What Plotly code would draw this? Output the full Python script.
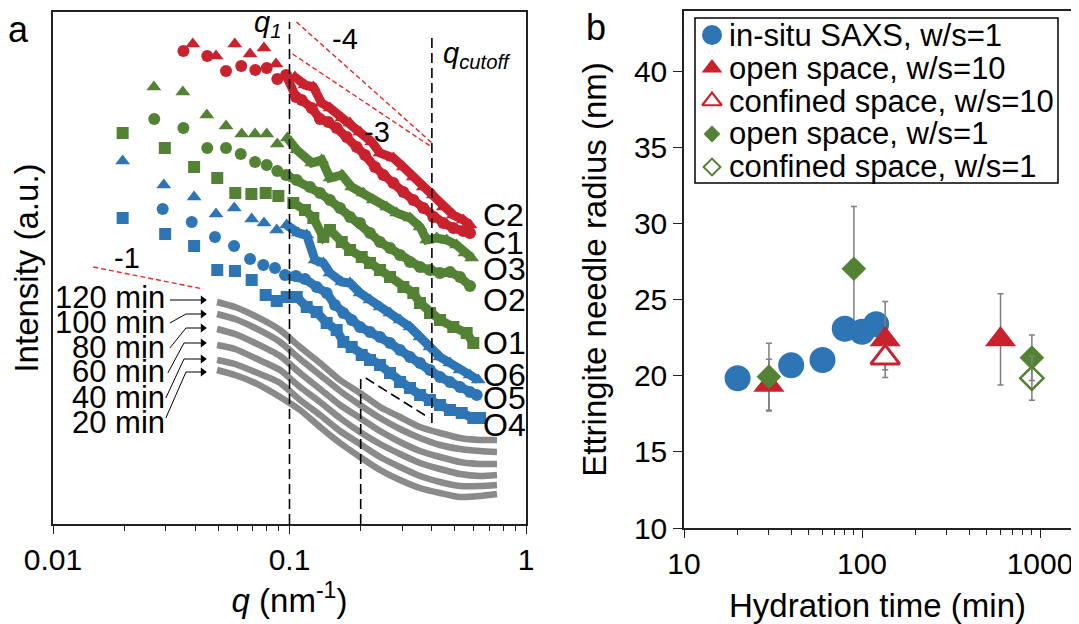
import plotly.graph_objects as go

W, H = 1079, 624
FONT = "Liberation Sans, Arial, sans-serif"
RED = "#C9212E"
GREEN = "#548235"
BLUE = "#2E75B6"
GRAY = "#8A8A8A"
ERR = "#7F7F7F"

# ---------------- Panel a: SAXS curves (q in nm^-1, intensity in a.u., stacked) ----------------
c2_q = [0.0390, 0.0489, 0.0587, 0.0681, 0.0780, 0.0877, 0.1055, 0.1163, 0.1261, 0.1368, 0.1483, 0.1663,
        0.1803, 0.1987, 0.2226, 0.2414, 0.2748, 0.3029, 0.3338, 0.3680, 0.4055, 0.4470, 0.4927, 0.5431, 0.5797]
c2_i = [480, 468, 480, 470, 476, 460, 447, 439, 437, 421, 416, 406,
        401, 392, 382, 371, 366, 357, 347, 337, 329, 317, 309, 304, 299]

c1_q = [0.0356, 0.0449, 0.0539, 0.0625, 0.0717, 0.0801, 0.0888, 0.0967, 0.1065, 0.1126, 0.1241, 0.1346,
        0.1459, 0.1583, 0.1746, 0.1923, 0.2085, 0.2299, 0.2493, 0.2748, 0.3029, 0.3338, 0.3680, 0.4055,
        0.4470, 0.4927, 0.5431, 0.5797]
c1_i = [473, 468, 453, 458, 454, 456, 445, 449, 427, 424, 416, 405,
        402, 396, 387, 377, 369, 357, 349, 341, 332, 324, 316, 307,
        301, 296, 293, 291]

o3_q = [0.0267, 0.0354, 0.0447, 0.0539, 0.0628, 0.0715, 0.0801, 0.0888, 0.0979, 0.1073, 0.1241, 0.1368,
        0.1483, 0.1663, 0.1832, 0.2051, 0.2261, 0.2576, 0.2841, 0.3232, 0.3563, 0.3803, 0.4192, 0.4620,
        0.5093, 0.5521, 0.5894]
o3_i = [437, 432, 409, 398, 390, 390, 390, 380, 386, 374, 361, 364,
        346, 349, 337, 331, 324, 317, 311, 306, 297, 284, 286, 284,
        279, 271, 266]

o2_q = [0.0268, 0.0356, 0.0449, 0.0539, 0.0622, 0.0715, 0.0801, 0.0888, 0.0967, 0.1073, 0.1221, 0.1346,
        0.1483, 0.1635, 0.1803, 0.1987, 0.2190, 0.2414, 0.2661, 0.2933, 0.3232, 0.3563, 0.3927, 0.4329,
        0.4771, 0.5259, 0.5797]
o2_i = [405, 396, 376, 376, 370, 362, 359, 353, 349, 344, 337, 331,
        324, 316, 307, 301, 291, 282, 276, 269, 262, 257, 254, 251,
        252, 247, 238]

o1_q = [0.0197, 0.0297, 0.0395, 0.0495, 0.0590, 0.0690, 0.0793, 0.0897, 0.1038, 0.1163, 0.1261, 0.1390,
        0.1483, 0.1663, 0.1803, 0.2020, 0.2190, 0.2414, 0.2661, 0.3029, 0.3338, 0.3563, 0.3927, 0.4329,
        0.4927, 0.5613, 0.5987]
o1_i = [391, 376, 357, 346, 331, 330, 331, 328, 321, 314, 306, 287,
        294, 282, 274, 267, 261, 254, 247, 237, 231, 221, 211, 204,
        197, 191, 181]

o6_q = [0.0197, 0.0294, 0.0395, 0.0489, 0.0584, 0.0692, 0.0780, 0.0883, 0.0973, 0.1090, 0.1182, 0.1282,
        0.1390, 0.1483, 0.1663, 0.1803, 0.1987, 0.2190, 0.2414, 0.2661, 0.2933, 0.3232, 0.3563, 0.3927,
        0.4329, 0.4771, 0.5259, 0.5797, 0.6285]
o6_i = [363, 339, 327, 310, 316, 305, 301, 294, 299, 291, 289, 264,
        261, 251, 242, 241, 231, 224, 217, 211, 204, 197, 187, 177,
        167, 161, 154, 149, 144]

o5_q = [0.0291, 0.0386, 0.0484, 0.0583, 0.0681, 0.0775, 0.0868, 0.0957, 0.1065, 0.1163, 0.1303, 0.1436,
        0.1557, 0.1689, 0.1832, 0.1987, 0.2190, 0.2414, 0.2661, 0.2933, 0.3232, 0.3563, 0.3927, 0.4329,
        0.4771, 0.5259, 0.5797, 0.6188]
o5_i = [315, 302, 287, 278, 265, 259, 256, 249, 248, 245, 237, 231,
        219, 211, 204, 197, 192, 187, 181, 174, 167, 161, 154, 147,
        142, 137, 132, 129]

o4_q = [0.0197, 0.0298, 0.0395, 0.0495, 0.0588, 0.0692, 0.0793, 0.0883, 0.0973, 0.1073, 0.1182, 0.1303,
        0.1436, 0.1583, 0.1689, 0.1832, 0.2020, 0.2190, 0.2414, 0.2661, 0.2933, 0.3232, 0.3563, 0.3927,
        0.4329, 0.4771, 0.5347, 0.5987, 0.6390]
o4_i = [306, 290, 278, 254, 253, 244, 229, 223, 227, 227, 217, 212,
        201, 194, 182, 177, 169, 164, 159, 151, 142, 136, 129, 124,
        119, 114, 111, 106, 106]

# in-situ SAXS curves (gray)
g_q = [0.0494, 0.0588, 0.0715, 0.0912, 0.1108, 0.1346, 0.1635, 0.1987, 0.2414, 0.2933, 0.3563, 0.4329,
       0.5259, 0.6390, 0.7541]
g120_i = [222, 217, 208, 194, 177, 161, 144, 131, 117, 107, 97, 91, 86, 84, 84]
g100_i = [210, 205, 196, 182, 165, 149, 133, 119, 106, 95, 86, 79, 75, 73, 72]
g80_i = [195, 190, 181, 168, 151, 135, 119, 106, 93, 82, 73, 67, 62, 60, 60]
g60_i = [179, 175, 166, 154, 137, 122, 106, 92, 80, 70, 61, 55, 50, 48, 49]
g40_i = [164, 160, 152, 141, 124, 109, 93, 80, 67, 57, 48, 42, 38, 38, 39]
g20_i = [154, 149, 141, 127, 114, 97, 81, 67, 54, 44, 36, 31, 27, 28, 30]
gray_labels = ["120 min", "100 min", "80 min", "60 min", "40 min", "20 min"]

# guide lines (q, a.u.)
q1_line_q = [0.1, 0.1]; q1_line_i = [0, 502]
qcut_line_q = [0.4, 0.4]; qcut_line_i = [101, 488]
q02_line_q = [0.2, 0.2]; q02_line_i = [0, 146]
diag_line_q = [0.21, 0.39]; diag_line_i = [146, 106]
slope4_q = [0.107, 0.405]; slope4_i = [502, 380]
slope3_q = [0.103, 0.405]; slope3_i = [470, 376]
slope1_q = [0.0148, 0.0432]; slope1_i = [257, 235]

# label arrows (q, a.u.)
arrows_q = [[0.0312, 0.0430], [0.0312, 0.0365, 0.0430], [0.0312, 0.0365, 0.0430],
            [0.0306, 0.0358, 0.0430], [0.0300, 0.0358, 0.0430], [0.0300, 0.0365, 0.0430]]
arrows_i = [[224, 224], [201, 210, 210], [176, 196, 196],
            [151, 181, 181], [126, 165, 165], [106, 152, 152]]

# ---------------- Panel b: needle radius vs hydration time ----------------
insitu_t = [20, 40, 60, 80, 100, 120]
insitu_r = [19.85, 20.7, 21.05, 23.1, 22.9, 23.4]
open10_t = [30, 135, 600]
open10_r = [19.4, 22.4, 22.4]
open10_err = [1.7, 2.5, 3.0]
conf10_t = [135]
conf10_r = [21.2]
conf10_err = [0.8]
open1_t = [30, 90, 900]
open1_r = [19.95, 27.05, 21.2]
open1_err = [2.2, 4.1, 1.5]
conf1_t = [900]
conf1_r = [19.85]
conf1_err = [1.45]

legend_labels = ["in-situ SAXS, w/s=1", "open space, w/s=10", "confined space, w/s=10",
                 "open space, w/s=1", "confined space, w/s=1"]

# layout in page pixels; the page body adds an 8 px offset, compensated here
OFF = 8
PL, PR, PT, PB = 53 - OFF, 1071 - OFF, 11 - OFF, 528 - OFF


def P(x, y):
    return (x - OFF - PL) / (PR - PL), (PB - (y - OFF)) / (PB - PT)


def dom_x(a, b):
    return [P(a, 0)[0], P(b, 0)[0]]


def dom_y(top, bottom):
    return [P(0, bottom)[1], P(0, top)[1]]


fig = go.Figure()
DENSE_START = 0.095

# gray curves
for gi in [g120_i, g100_i, g80_i, g60_i, g40_i, g20_i]:
    fig.add_trace(go.Scatter(x=g_q, y=gi, mode="lines", line=dict(color=GRAY, width=6.5, shape="spline", smoothing=0.6),
                             xaxis="x", yaxis="y", showlegend=False, hoverinfo="skip"))


def add_series(q, inten, symbol, color, size):
    dq = [a for a in q if a >= DENSE_START]
    di = [b for a, b in zip(q, inten) if a >= DENSE_START]
    fig.add_trace(go.Scatter(x=dq, y=di, mode="lines", line=dict(color=color, width=9),
                             xaxis="x", yaxis="y", showlegend=False, hoverinfo="skip"))
    fig.add_trace(go.Scatter(x=q, y=inten, mode="markers",
                             marker=dict(symbol=symbol, color=color, size=size, line=dict(width=0)),
                             xaxis="x", yaxis="y", showlegend=False))


add_series(o4_q, o4_i, "square", BLUE, 12)
add_series(o5_q, o5_i, "circle", BLUE, 12)
add_series(o6_q, o6_i, "triangle-up", BLUE, 13)
add_series(o1_q, o1_i, "square", GREEN, 12)
add_series(o2_q, o2_i, "circle", GREEN, 12)
add_series(o3_q, o3_i, "triangle-up", GREEN, 13)
add_series(c1_q, c1_i, "circle", RED, 12)
add_series(c2_q, c2_i, "triangle-up", RED, 13)

# guide lines
for lq, li in [(q1_line_q, q1_line_i), (qcut_line_q, qcut_line_i), (q02_line_q, q02_line_i),
               (diag_line_q, diag_line_i)]:
    fig.add_trace(go.Scatter(x=lq, y=li, mode="lines", line=dict(color="black", width=1.6, dash="10px,5px"),
                             xaxis="x", yaxis="y", showlegend=False, hoverinfo="skip"))
for lq, li in [(slope4_q, slope4_i), (slope3_q, slope3_i), (slope1_q, slope1_i)]:
    fig.add_trace(go.Scatter(x=lq, y=li, mode="lines", line=dict(color="#E8262C", width=1.4, dash="5px,3px"),
                             xaxis="x", yaxis="y", showlegend=False, hoverinfo="skip"))
for aq, ai in zip(arrows_q, arrows_i):
    fig.add_trace(go.Scatter(x=aq, y=ai, mode="lines", line=dict(color="black", width=1),
                             xaxis="x", yaxis="y", showlegend=False, hoverinfo="skip"))
    fig.add_trace(go.Scatter(x=aq[-1:], y=ai[-1:], mode="markers",
                             marker=dict(symbol="triangle-right", color="black", size=8),
                             xaxis="x", yaxis="y", showlegend=False, hoverinfo="skip"))

# panel b
fig.add_trace(go.Scatter(x=open1_t, y=open1_r, mode="markers", marker=dict(size=2, opacity=0),
                         error_y=dict(type="data", array=open1_err, color=ERR, thickness=1.5, width=3),
                         xaxis="x2", yaxis="y2", showlegend=False, hoverinfo="skip"))
fig.add_trace(go.Scatter(x=insitu_t, y=insitu_r, mode="markers", name=legend_labels[0],
                         marker=dict(symbol="circle", color=BLUE, size=26, line=dict(width=0)),
                         xaxis="x2", yaxis="y2", showlegend=False))
fig.add_trace(go.Scatter(x=open10_t, y=open10_r, mode="markers", name=legend_labels[1],
                         marker=dict(symbol="triangle-up", color=RED, size=27, line=dict(width=0)),
                         error_y=dict(type="data", array=open10_err, color=ERR, thickness=1.5, width=3),
                         xaxis="x2", yaxis="y2", showlegend=False))
fig.add_trace(go.Scatter(x=conf10_t, y=conf10_r, mode="markers", name=legend_labels[2],
                         marker=dict(symbol="triangle-up", color="white", size=25, line=dict(color=RED, width=3)),
                         error_y=dict(type="data", array=conf10_err, color=ERR, thickness=1.5, width=3),
                         xaxis="x2", yaxis="y2", showlegend=False))
fig.add_trace(go.Scatter(x=open1_t, y=open1_r, mode="markers", name=legend_labels[3],
                         marker=dict(symbol="diamond", color=GREEN, size=19, line=dict(width=0)),
                         xaxis="x2", yaxis="y2", showlegend=False))
fig.add_trace(go.Scatter(x=conf1_t, y=conf1_r, mode="markers", name=legend_labels[4],
                         marker=dict(symbol="diamond-open", color=GREEN, size=18, line=dict(width=2.5)),
                         error_y=dict(type="data", array=conf1_err, color=ERR, thickness=1.5, width=3),
                         xaxis="x2", yaxis="y2", showlegend=False))

# manual legend symbols (overlay axis in page-pixel units)
leg_rows = [35, 68, 101, 134, 167]
leg_sym = [dict(symbol="circle", color=BLUE, size=20, line=dict(width=0)),
           dict(symbol="triangle-up", color=RED, size=18, line=dict(width=0)),
           dict(symbol="triangle-up", color="white", size=17, line=dict(color=RED, width=2.2)),
           dict(symbol="diamond", color=GREEN, size=13, line=dict(width=0)),
           dict(symbol="diamond-open", color=GREEN, size=13, line=dict(width=2))]
for yy, ms in zip(leg_rows, leg_sym):
    fig.add_trace(go.Scatter(x=[712], y=[yy], mode="markers", marker=ms, xaxis="x3", yaxis="y3",
                             showlegend=False, hoverinfo="skip"))

ann = []


def text(x, y, s, size=30, xanchor="center", yanchor="middle"):
    px, py = P(x, y)
    ann.append(dict(x=px, y=py, xref="paper", yref="paper", text=s, showarrow=False,
                    xanchor=xanchor, yanchor=yanchor, font=dict(family=FONT, size=size, color="black")))


text(18, 29, "a", 36)
text(596, 27, "b", 36)
text(267, 24, "<i>q<sub>1</sub></i>", 29)
text(441, 55, "<i>q<sub>cutoff</sub></i>", 29, xanchor="left")
text(345, 39, "-4", 29)
text(377, 132, "-3", 29)
text(127, 258, "-1", 29)
for lab, yy in zip(["C2", "C1", "O3", "O2", "O1", "O6", "O5", "O4"], [215, 243, 269, 300, 343, 375, 398, 425]):
    text(481, yy, lab, 32, xanchor="left")
for lab, yy in zip(gray_labels, [297, 322, 347, 372, 397, 422]):
    text(167, yy, lab, 31, xanchor="right")
for lab, yy in zip(legend_labels, leg_rows):
    text(727, yy, lab, 31, xanchor="left")

x0, y0 = P(695, 18)
x1, y1 = P(1058, 183)
shapes = [dict(type="rect", xref="paper", yref="paper", x0=x0, y0=y1, x1=x1, y1=y0,
               line=dict(color="black", width=1.5), fillcolor="rgba(0,0,0,0)", layer="above")]

axis_common = dict(showline=True, linecolor="#222222", linewidth=1.5, mirror=True, showgrid=False,
                   zeroline=False, tickfont=dict(family=FONT, size=30, color="black"))

minor_q = [m * 10 ** e for e in (-2, -1) for m in range(2, 10)]
minor_t = [m * 10 ** e for e in (1, 2, 3) for m in range(2, 10) if m * 10 ** e < 1500]

fig.update_layout(
    width=W, height=H, margin=dict(l=PL, r=W - PR, t=PT, b=H - PB, autoexpand=False),
    paper_bgcolor="white", plot_bgcolor="rgba(0,0,0,0)",
    font=dict(family=FONT, color="black"),
    showlegend=False,
    xaxis=dict(axis_common, domain=dom_x(53, 526), type="log", range=[-2, 0], anchor="y",
               tickmode="array", tickvals=[0.01, 0.1, 1], ticktext=["0.01", "0.1", "1"],
               ticks="outside", ticklen=8, tickwidth=1.2, tickcolor="#222222",
               minor=dict(tickmode="array", tickvals=minor_q, ticks="outside", ticklen=5,
                          tickwidth=1, tickcolor="#222222"),
               title=dict(text="<i>q</i> (nm<sup>-1</sup>)", font=dict(family=FONT, size=33), standoff=14)),
    yaxis=dict(axis_common, domain=dom_y(12, 524), range=[0, 512], anchor="x",
               showticklabels=False, ticks="",
               title=dict(text="Intensity (a.u.)", font=dict(family=FONT, size=33), standoff=8)),
    xaxis2=dict(axis_common, domain=dom_x(684, 1071), type="log", range=[1, 3.174], anchor="y2",
                tickmode="array", tickvals=[10, 100, 1000], ticktext=["10", "100", "1000"],
                ticks="outside", ticklen=8, tickwidth=1.2, tickcolor="#222222",
                minor=dict(tickmode="array", tickvals=minor_t, ticks="outside", ticklen=5,
                           tickwidth=1, tickcolor="#222222"),
                title=dict(text="Hydration time (min)", font=dict(family=FONT, size=33), standoff=15)),
    yaxis2=dict(axis_common, domain=dom_y(11, 528), range=[10, 44], anchor="x2",
                tickmode="array", tickvals=[10, 15, 20, 25, 30, 35, 40], ticks="outside", ticklen=9,
                tickwidth=1.2, tickcolor="#222222",
                title=dict(text="Ettringite needle radius (nm)", font=dict(family=FONT, size=33), standoff=17)),
    xaxis3=dict(domain=[0, 1], range=[PL + OFF, PR + OFF], visible=False, anchor="y3", fixedrange=True),
    yaxis3=dict(domain=[0, 1], range=[PB + OFF, PT + OFF], visible=False, anchor="x3", fixedrange=True),
    annotations=ann,
    shapes=shapes,
)

fig.write_html("out.html")
